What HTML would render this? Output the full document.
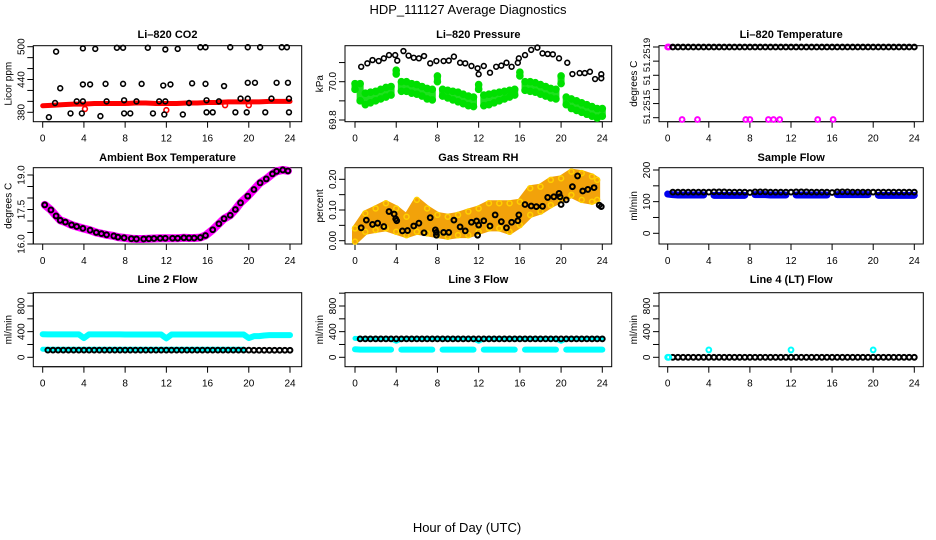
<!DOCTYPE html>
<html><head><meta charset="utf-8"><title>HDP_111127 Average Diagnostics</title>
<style>
html,body{margin:0;padding:0;background:#fff;}
svg{display:block;font-family:"Liberation Sans",sans-serif;}
</style></head>
<body>
<svg id="chart" width="936" height="540" viewBox="0 0 936 540" xmlns="http://www.w3.org/2000/svg">
<rect x="0" y="0" width="936" height="540" fill="#fff"/>
<text x="468" y="14" text-anchor="middle" font-size="13">HDP_111127  Average Diagnostics</text>
<text x="467" y="532" text-anchor="middle" font-size="13">Hour of Day (UTC)</text>
</svg>
<script>
const HALF=[0,0.5,1,1.5,2,2.5,3,3.5,4,4.5,5,5.5,6,6.5,7,7.5,8,8.5,9,9.5,10,10.5,11,11.5,12,12.5,13,13.5,14,14.5,15,15.5,16,16.5,17,17.5,18,18.5,19,19.5,20,20.5,21,21.5,22,22.5,23,23.5,24];
const HOURS=[0,1,2,3,4,5,6,7,8,9,10,11,12,13,14,15,16,17,18,19,20,21,22,23,24];
const xTicks=[0,4,8,12,16,20,24];

// CO2
const co2Red=[392,393,394,395,395,396,396,396,396,397,397,396,396,396,397,397,398,398,399,399,399,399,400,400,400];
const co2RedOutHours=[4.1,12,17.7,20];
const co2RedOutVals=[386,384,393,393];
const co2BlackHours=[1.3,3.9,5.1,7.2,7.8,10.2,11.9,13.1,15.3,15.8,18.2,19.9,21.1,23.2,23.7,1.7,3.9,4.6,6.1,7.8,9.6,11.7,12.4,14.5,15.8,17.6,19.9,20.6,22.7,23.8,1.2,3.3,3.9,6.2,7.9,9.1,11.3,11.9,14.2,15.9,17.1,19.2,19.9,22.2,23.9,0.6,2.7,3.8,5.6,7.9,8.5,10.7,11.8,13.6,15.9,16.5,18.7,19.8,21.6,23.9];
const co2BlackVals=[491,497,496,498,498,498,495,496,499,499,499,499,499,499,499,424,431,431,432,432,432,429,431,433,432,428,434,434,434,434,397,400,400,400,402,400,400,400,397,402,400,405,405,405,405,371,378,378,373,378,378,378,376,376,380,380,380,380,380,380];
const co2Ticks=[380,400,420,440,460,480,500];
const co2Labels=["380","440","500"];

// Pressure
const presBlackHours=[0.6,1.2,1.7,2.3,2.8,3.3,3.9,4.1,4.7,5.2,5.7,6.2,6.7,7.3,7.9,8.6,9.1,9.6,10.2,10.7,11.3,11.9,12,12.5,13.1,13.7,14.2,14.7,15.2,15.8,15.9,16.5,17.1,17.7,18.2,18.7,19.2,19.8,20.6,21.1,21.8,22.3,22.8,23.3,23.9,23.9];
const presBlackVals=[70.078,70.096,70.113,70.108,70.122,70.139,70.139,70.110,70.160,70.136,70.125,70.122,70.134,70.096,70.108,70.108,70.110,70.131,70.099,70.096,70.082,70.070,70.039,70.082,70.047,70.078,70.084,70.099,70.078,70.099,70.122,70.139,70.166,70.178,70.148,70.145,70.143,70.122,70.099,70.040,70.045,70.045,70.052,70.014,70.018,70.039];
const presGreenHi=[69.99,69.99,69.94,69.945,69.95,69.96,69.97,69.975,70.06,70.0,70.0,69.99,69.985,69.975,69.965,69.96,70.03,69.96,69.955,69.95,69.945,69.935,69.925,69.92,69.985,69.93,69.935,69.94,69.945,69.95,69.955,69.96,70.05,70.0,70.0,69.995,69.985,69.975,69.965,69.96,70.03,69.92,69.91,69.9,69.89,69.88,69.87,69.86,69.86];
const presGreenLo=[69.96,69.9,69.88,69.89,69.9,69.91,69.92,69.93,70.04,69.95,69.95,69.94,69.935,69.925,69.91,69.905,70.0,69.925,69.915,69.905,69.895,69.885,69.875,69.87,69.96,69.875,69.88,69.89,69.9,69.91,69.92,69.93,70.03,69.955,69.95,69.945,69.935,69.925,69.915,69.91,69.99,69.88,69.86,69.85,69.84,69.83,69.82,69.81,69.82];
const presTicks=[69.8,69.9,70.0,70.1];
const presLabels=["69.8","70.0"];

// Li-820 temperature
const tempBlack=[null,51.2519,51.2519,51.2519,51.2519,51.2519,51.2519,51.2519,51.2519,51.2519,51.2519,51.2519,51.2519,51.2519,51.2519,51.2519,51.2519,51.2519,51.2519,51.2519,51.2519,51.2519,51.2519,51.2519,51.2519,51.2519,51.2519,51.2519,51.2519,51.2519,51.2519,51.2519,51.2519,51.2519,51.2519,51.2519,51.2519,51.2519,51.2519,51.2519,51.2519,51.2519,51.2519,51.2519,51.2519,51.2519,51.2519,51.2519,51.2519];
const tempMagHours=[0,0.1,1.4,2.9,7.6,8.0,9.8,10.3,10.9,14.6,16.1];
const tempMagVals=[51.2519,51.2519,51.25149,51.25149,51.25149,51.25149,51.25149,51.25149,51.25149,51.25149,51.25149];
const tempTicks=[51.2519,51.25182,51.25174,51.25166,51.25158,51.2515];

// Ambient box temperature
const ambHours=[0.2,0.8,1.3,1.7,2.2,2.8,3.3,3.9,4.6,5.2,5.7,6.2,6.9,7.3,7.9,8.6,9.1,9.8,10.3,10.8,11.4,11.9,12.6,13.1,13.7,14.2,14.7,15.3,15.8,16.5,17.1,17.6,18.2,18.7,19.2,19.9,20.5,21.1,21.7,22.3,22.7,23.3,23.8];
const ambVals=[17.70,17.48,17.22,17.03,16.95,16.83,16.76,16.68,16.60,16.50,16.45,16.40,16.35,16.30,16.27,16.23,16.22,16.22,16.23,16.24,16.25,16.25,16.25,16.25,16.27,16.26,16.26,16.28,16.37,16.62,16.88,17.10,17.25,17.50,17.79,18.08,18.37,18.66,18.83,19.05,19.16,19.22,19.18];
const ambTicks=[16.0,16.5,17.0,17.5,18.0,18.5,19.0];
const ambLabels=["16.0","17.5","19.0"];

// Gas stream RH
const rhHours=[0,1,2,3,4,5,6,7,8,9,10,11,12,13,14,15,16,17,18,19,20,21,22,23,23.5];
const rhHi=[0.04,0.089,0.105,0.122,0.105,0.078,0.133,0.105,0.084,0.078,0.084,0.095,0.105,0.122,0.122,0.122,0.127,0.171,0.176,0.198,0.203,0.225,0.22,0.209,0.198];
const rhLo=[-0.003,0.029,0.035,0.04,0.029,0.018,0.029,0.024,0.018,0.013,0.018,0.018,0.029,0.04,0.04,0.029,0.051,0.084,0.095,0.116,0.133,0.149,0.133,0.127,0.133];
const rhBlackHours=[0.6,1.1,1.7,2.2,2.8,3.3,3.8,3.95,4.05,4.6,5.1,5.7,6.2,6.7,7.3,7.8,7.9,7.9,8.6,9.1,9.6,10.2,10.7,11.3,11.8,11.9,12.0,12.5,13.1,13.6,14.2,14.7,15.2,15.8,15.9,16.5,17.1,17.6,18.2,18.7,19.3,19.8,19.9,20.0,20.5,21.1,21.6,22.1,22.6,23.2,23.7,23.9];
const rhBlackVals=[0.042,0.067,0.053,0.057,0.046,0.095,0.087,0.071,0.065,0.032,0.033,0.048,0.057,0.026,0.075,0.035,0.027,0.018,0.027,0.027,0.067,0.045,0.032,0.060,0.064,0.018,0.051,0.065,0.048,0.084,0.062,0.042,0.060,0.065,0.084,0.118,0.113,0.111,0.112,0.141,0.143,0.154,0.143,0.118,0.133,0.176,0.211,0.162,0.167,0.173,0.116,0.111];
const rhTicks=[0,0.05,0.1,0.15,0.2];
const rhLabels=["0.00","0.10","0.20"];

// Sample flow
const sampleBlack=[null,130,130,130,130,130,130,130,130,131,131,131,130,130,130,130,129,131,131,131,130,130,130,130,130,131,131,131,130,130,130,130,129,131,131,131,130,130,130,130,130,130,130,130,130,130,130,130,130];
const sampleBlue=[124,122,121,121,121,121,121,121,null,120,120,120,120,120,120,120,null,122,122,122,121,121,121,121,null,121,121,121,121,121,121,121,null,122,122,122,122,122,122,122,null,120,120,120,120,120,120,120,120];
const sampleTicks=[0,50,100,150,200];
const sampleLabels=["0","100","200"];

// Line 2 flow
const l2CyanHi=[360,358,358,358,358,358,358,358,300,358,358,358,358,358,358,358,355,355,355,355,355,355,355,355,295,355,355,355,355,355,355,355,355,355,355,355,355,355,355,355,300,330,330,340,345,345,345,345,345];
const l2CyanLo=[125,125,125,125,125,125,125,125,125,125,125,125,125,125,125,125,125,125,125,125,125,125,125,125,125,125,125,125,125,125,125,125,125,125,125,125,125,125,125,125,null,null,null,null,null,null,null,null,null];
const l2Black=[null,112,112,112,112,112,112,112,112,112,112,112,112,112,112,112,112,112,112,112,112,112,112,112,112,112,112,112,112,112,112,112,112,112,112,112,112,112,112,112,112,110,110,110,110,110,110,110,110];
// Line 3 flow
const l3CyanHi=[295,290,290,290,290,290,290,290,250,290,290,290,290,290,290,290,290,290,290,290,290,290,290,290,250,290,290,290,290,290,290,290,290,290,290,290,290,290,290,290,250,290,290,290,290,290,290,290,290];
const l3CyanLo=[125,120,120,120,120,120,120,120,null,120,120,120,120,120,120,120,null,120,120,120,120,120,120,120,null,120,120,120,120,120,120,120,null,120,120,120,120,120,120,120,null,120,120,120,120,120,120,120,120];
const l3Black=[null,287,287,287,287,287,287,287,287,287,287,287,287,287,287,287,287,287,287,287,287,287,287,287,287,287,287,287,287,287,287,287,287,287,287,287,287,287,287,287,287,287,287,287,287,287,287,287,287];
// Line 4 flow
const l4Black=[null,0,0,0,0,0,0,0,0,0,0,0,0,0,0,0,0,0,0,0,0,0,0,0,0,0,0,0,0,0,0,0,0,0,0,0,0,0,0,0,0,0,0,0,0,0,0,0,0];
const l4CyanHours=[0,0.1,4,12,20];
const l4CyanVals=[0,0,115,115,115];
const flowTicks=[0,200,400,600,800,1000];
const flowLabels=["0","400","800"];

const NS="http://www.w3.org/2000/svg";
const svg=document.getElementById('chart');
function mk(tag,attrs,parent){const e=document.createElementNS(NS,tag);for(const k in attrs)e.setAttribute(k,attrs[k]);(parent||svg).appendChild(e);return e;}

const cols=[{x0:42.7,x1:290,L:33.3,R:301.7},{x0:355,x1:602.3,L:345,R:611.7},{x0:667.7,x1:914.3,L:659,R:923.3}];
const rows=[{T:45.7,B:121.7,title:34},{T:167.7,B:244,title:157},{T:292.7,B:366.7,title:279}];

function makePanel(name,ci,ri,title,ylab,va,pa,vb,pb){
  const c=cols[ci],r=rows[ri];
  const g=mk('g',{});
  
  
  const xs=h=>c.x0+(h/24)*(c.x1-c.x0);
  const ys=v=>pa+(v-va)*(pb-pa)/(vb-va);
  const box=mk('rect',{x:c.L,y:r.T,width:c.R-c.L,height:r.B-r.T,fill:'none',stroke:'#000','stroke-width':1},g);
  
  
  const t=mk('text',{x:(c.L+c.R)/2,y:r.title+4,'text-anchor':'middle','font-size':11,'font-weight':'bold'},g);
  t.textContent=title;
  
  
  const yl=mk('text',{transform:`translate(${c.L-22},${(r.T+r.B)/2}) rotate(-90)`,'text-anchor':'middle','font-size':10},g);
  yl.textContent=ylab;
  
  
  const xa=mk('g',{},g);
  
  
  mk('line',{x1:xs(0),x2:xs(24),y1:r.B,y2:r.B,stroke:'#000'},xa);
  xTicks.forEach(h=>{
    mk('line',{x1:xs(h),x2:xs(h),y1:r.B,y2:r.B+6,stroke:'#000'},xa);
    const tl=mk('text',{x:xs(h),y:r.B+20,'text-anchor':'middle','font-size':10},xa);
    tl.textContent=String(h);
    
    
  });
  return {g,xs,ys,c,r};
}
function yAxis(p,name,ticks,labels,labelVals){
  const ya=mk('g',{},p.g);
  
  
  mk('line',{x1:p.c.L,x2:p.c.L,y1:p.ys(ticks[0]),y2:p.ys(ticks[ticks.length-1]),stroke:'#000'},ya);
  ticks.forEach(v=>mk('line',{x1:p.c.L-6,x2:p.c.L,y1:p.ys(v),y2:p.ys(v),stroke:'#000'},ya));
  labels.forEach((lab,i)=>{
    const y=p.ys(labelVals[i]);
    const tl=mk('text',{transform:`translate(${p.c.L-9},${y}) rotate(-90)`,'text-anchor':'middle','font-size':10},ya);
    tl.textContent=lab;
    
    
  });
}
function points(p,name,hours,vals,color,opt){
  opt=opt||{};
  const g=mk('g',{},p.g);
  
  
  hours.forEach((h,i)=>{
    const v=vals[i]; if(v===null||v===undefined) return;
    const cc=mk('circle',{cx:p.xs(h),cy:p.ys(v),r:opt.r||2.4,fill:opt.fill||'none',stroke:color,'stroke-width':opt.sw||1.6},g);
    
    
  });
}
function band(p,name,hours,vals,color,w){
  const g=mk('g',{},p.g);
  
  
  let seg=[];
  const flush=()=>{ if(seg.length){const pl=mk('polyline',{points:seg.join(' '),fill:'none',stroke:color,'stroke-width':w,'stroke-linecap':'round','stroke-linejoin':'round'},g);} seg=[]; };
  hours.forEach((h,i)=>{const v=vals[i]; if(v===null||v===undefined){flush();return;} seg.push(p.xs(h)+','+p.ys(v));});
  flush();
}

let p=makePanel('co2',0,0,'Li\u2013820 CO2','Licor ppm',500,46.7,380,112.3);
yAxis(p,'co2',co2Ticks,co2Labels,[380,440,500]);
band(p,'co2-red-band',HOURS,co2Red,'#f00',5);
points(p,'co2-red-outliers',co2RedOutHours,co2RedOutVals,'#f00');
points(p,'co2-black-points',co2BlackHours,co2BlackVals,'#000');

p=makePanel('pressure',1,0,'Li\u2013820 Pressure','kPa',70.0,81.7,69.8,120);
yAxis(p,'pressure',presTicks,presLabels,[69.8,70.0]);
(function(){
  const g=mk('g',{},p.g);
  
  
  HALF.forEach((h,i)=>{
    const y1=p.ys(presGreenHi[i]),y2=p.ys(presGreenLo[i]);
    const rr=mk('rect',{x:p.xs(h)-3.5,y:y1-3,width:7,height:y2-y1+6,rx:3,fill:'#1ee01e'},g);
    
    
  });
})();
points(p,'pressure-green-hi',HALF,presGreenHi,'#00e000',{r:3,fill:'#00e000'});
points(p,'pressure-green-lo',HALF,presGreenLo,'#00e000',{r:3,fill:'#00e000'});
points(p,'pressure-black-points',presBlackHours,presBlackVals,'#000');

p=makePanel('li820-temp',2,0,'Li\u2013820 Temperature','degrees C',51.2519,47,51.2515,117.7);
(function(){
  const ya=mk('g',{},p.g);
  
  
  mk('line',{x1:p.c.L,x2:p.c.L,y1:p.ys(tempTicks[0]),y2:p.ys(tempTicks[5]),stroke:'#000'},ya);
  tempTicks.forEach(v=>mk('line',{x1:p.c.L-6,x2:p.c.L,y1:p.ys(v),y2:p.ys(v),stroke:'#000'},ya));
  [["51.2519",55],["51",80],["51.2515",107]].forEach(a=>{
    const tl=mk('text',{transform:`translate(${p.c.L-9},${a[1]}) rotate(-90)`,'text-anchor':'middle','font-size':9.5},ya);
    tl.textContent=a[0];
    
    
  });
})();
points(p,'li820-temp-magenta',tempMagHours,tempMagVals,'#f0f',{sw:2});
points(p,'li820-temp-black',HALF,tempBlack,'#000',{sw:2});

p=makePanel('ambient-temp',0,1,'Ambient Box Temperature','degrees C',19,175,16,244);
yAxis(p,'ambient-temp',ambTicks,ambLabels,[16,17.5,19]);
band(p,'ambient-temp-magenta',ambHours,ambVals,'#f0f',8);
points(p,'ambient-temp-black',ambHours,ambVals,'#000',{sw:2});

p=makePanel('gas-rh',1,1,'Gas Stream RH','percent',0,240.7,0.2,179.3);
yAxis(p,'gas-rh',rhTicks,rhLabels,[0,0.1,0.2]);
(function(){
  const pts=rhHours.map((h,i)=>p.xs(h)+','+p.ys(rhHi[i])).concat(rhHours.slice().reverse().map((h,j)=>{const i=rhHours.length-1-j;return p.xs(h)+','+p.ys(rhLo[i]);}));
  const pg=mk('polygon',{points:pts.join(' '),fill:'#f2a20a',stroke:'#f2a20a','stroke-width':6,'stroke-linejoin':'round'},p.g);
  
  
})();
points(p,'gas-rh-orange-hi',rhHours,rhHi,'#ffd000',{r:2.5,sw:1.5});
points(p,'gas-rh-orange-lo',rhHours,rhLo,'#ffd000',{r:2.5,sw:1.5});
points(p,'gas-rh-black',rhBlackHours,rhBlackVals,'#000',{sw:2});

p=makePanel('sample-flow',2,1,'Sample Flow','ml/min',0,233.3,200,170);
yAxis(p,'sample-flow',sampleTicks,sampleLabels,[0,100,200]);
band(p,'sample-flow-blue',HALF,sampleBlue,'#0000ee',7);
points(p,'sample-flow-black',HALF,sampleBlack,'#000',{sw:2});

p=makePanel('line2-flow',0,2,'Line 2 Flow','ml/min',0,357.3,800,306);
yAxis(p,'line2-flow',flowTicks,flowLabels,[0,400,800]);
band(p,'line2-cyan-high',HALF,l2CyanHi,'#0ff',6);
band(p,'line2-cyan-low',HALF,l2CyanLo,'#0ff',5);
points(p,'line2-black',HALF,l2Black,'#000',{sw:2});

p=makePanel('line3-flow',1,2,'Line 3 Flow','ml/min',0,357.3,800,306);
yAxis(p,'line3-flow',flowTicks,flowLabels,[0,400,800]);
band(p,'line3-cyan-low',HALF,l3CyanLo,'#0ff',6);
band(p,'line3-cyan-high',HALF,l3CyanHi,'#0ff',5);
points(p,'line3-black',HALF,l3Black,'#000',{sw:2});

p=makePanel('line4-flow',2,2,'Line 4 (LT) Flow','ml/min',0,357.3,800,306);
yAxis(p,'line4-flow',flowTicks,flowLabels,[0,400,800]);
points(p,'line4-black',HALF,l4Black,'#000',{sw:2});
points(p,'line4-cyan',l4CyanHours,l4CyanVals,'#0ff',{sw:2});
</script>
</body></html>
